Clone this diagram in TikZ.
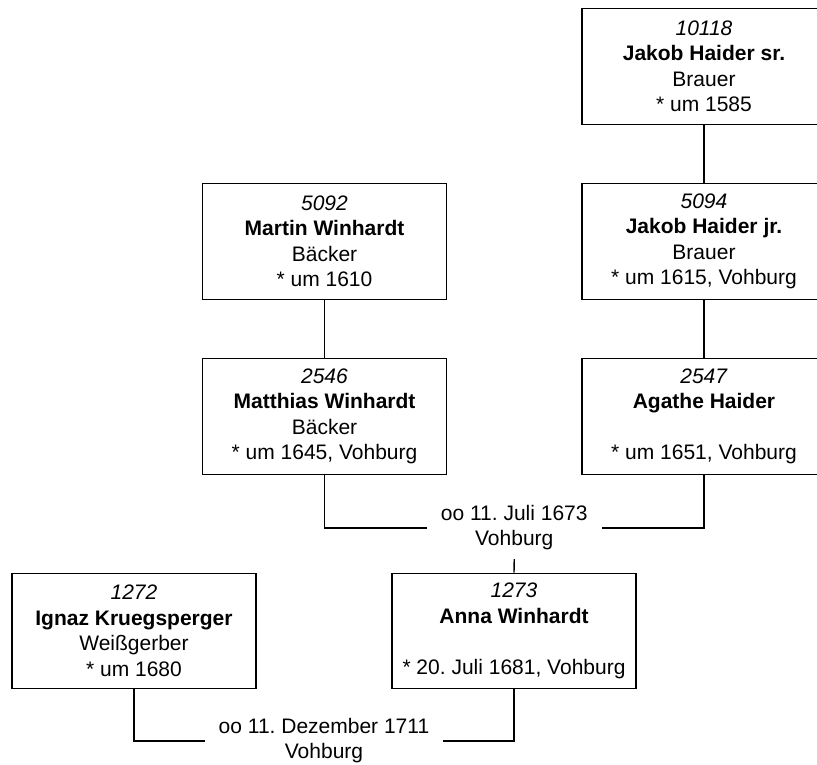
\documentclass[tikz,border=0pt]{standalone}
\usepackage{fontspec}
\setmainfont{Liberation Sans}
\frenchspacing
\begin{document}
\begin{tikzpicture}[x=1pt,y=-1pt,
  person/.style={draw, line width=1.4pt, rectangle, inner sep=0pt, align=center,
    minimum width=244pt, minimum height=115.5pt,
    font=\fontsize{21}{25.5}\selectfont},
  marriage/.style={inner xsep=14pt, inner ysep=0pt, align=center, minimum height=62pt,
    font=\fontsize{21}{25}\selectfont},
  link/.style={line width=1.4pt}]
\useasboundingbox (0,0) rectangle (817,765);
\node[person] (p10118) at (704,66.5) {\textit{10118}\\\textbf{Jakob Haider sr.}\\Brauer\\* um 1585};
\node[person] (p5092) at (324.5,241.5) {\textit{5092}\\\textbf{Martin Winhardt}\\Bäcker\\* um 1610};
\node[person] (p5094) at (704,241.5) {\textit{5094}\\\textbf{Jakob Haider jr.}\\Brauer\\* um 1615, Vohburg};
\node[person] (p2546) at (324.5,416.5) {\textit{2546}\\\textbf{Matthias Winhardt}\\Bäcker\\* um 1645, Vohburg};
\node[person] (p2547) at (704,416.5) {\textit{2547}\\\textbf{Agathe Haider}\\\mbox{}\\* um 1651, Vohburg};
\node[person] (p1272) at (134,631) {\textit{1272}\\\textbf{Ignaz Kruegsperger}\\Weißgerber\\* um 1680};
\node[person] (p1273) at (514,631) {\textit{1273}\\\textbf{Anna Winhardt}\\\mbox{}\\* 20. Juli 1681, Vohburg};
\node[marriage] (m1) at (514.25,528) {oo 11. Juli 1673\\Vohburg};
\node[marriage] (m2) at (324,741) {oo 11. Dezember 1711\\Vohburg};
\draw[link] (p10118) -- (p5094);
\draw[link] (p5092) -- (p2546);
\draw[link] (p5094) -- (p2547);
\draw[link] (p2546.south) |- (m1.west);
\draw[link] (p2547.south) |- (m1.east);
\draw[link] (m1.south) -- (p1273.north);
\draw[link] (p1272.south) |- (m2.west);
\draw[link] (p1273.south) |- (m2.east);
\end{tikzpicture}
\end{document}
